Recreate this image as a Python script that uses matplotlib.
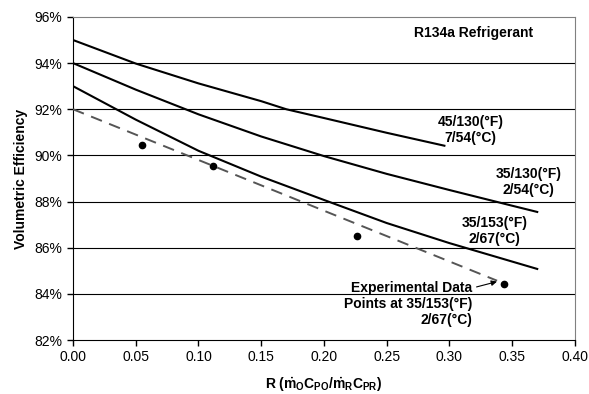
import numpy as np
import matplotlib.pyplot as plt

plt.rcParams['font.family'] = ['Liberation Sans', 'DejaVu Sans']
plt.rcParams['mathtext.fontset'] = 'custom'
plt.rcParams['mathtext.rm'] = 'Liberation Sans:bold'
plt.rcParams['mathtext.it'] = 'Liberation Sans:bold'
plt.rcParams['mathtext.bf'] = 'Liberation Sans:bold'

# Curvas (R, eficiencia volumétrica %)
r_45_130 = [0.0, 0.05, 0.10, 0.15, 0.17, 0.20, 0.25, 0.296]
ef_45_130 = [95.0, 93.98, 93.12, 92.35, 92.0, 91.62, 90.98, 90.42]

r_35_130 = [0.0, 0.05, 0.10, 0.15, 0.20, 0.25, 0.30, 0.35, 0.37]
ef_35_130 = [94.0, 92.85, 91.78, 90.82, 89.97, 89.2, 88.5, 87.82, 87.55]

r_35_153 = [0.0, 0.05, 0.10, 0.15, 0.20, 0.25, 0.30, 0.35, 0.37]
ef_35_153 = [93.0, 91.55, 90.2, 89.08, 88.07, 87.07, 86.2, 85.4, 85.08]

# Ajuste lineal (línea discontinua)
r_ajuste = [0.0, 0.338]
ef_ajuste = [92.0, 84.57]

# Datos experimentales
r_exp = [0.0547, 0.1113, 0.2266, 0.3434]
ef_exp = [90.46, 89.52, 86.52, 84.44]

fig = plt.figure(figsize=(5.89, 3.94), dpi=100)
ax = fig.add_axes([0.124, 0.137, 0.852, 0.82])

for y in range(84, 96, 2):
    ax.axhline(y, color='black', lw=0.8, zorder=1)

ax.plot(r_45_130, ef_45_130, color='black', lw=1.5, zorder=3)
ax.plot(r_35_130, ef_35_130, color='black', lw=1.5, zorder=3)
ax.plot(r_35_153, ef_35_153, color='black', lw=1.5, zorder=3)
ax.plot(r_ajuste, ef_ajuste, color='#555555', lw=1.4, ls=(0, (6, 4)), zorder=3)
ax.plot(r_exp, ef_exp, 'o', color='black', ms=4.5, zorder=4)

ax.set_xlim(0, 0.40)
ax.set_ylim(82, 96)
ax.set_xticks(np.arange(0, 0.41, 0.05))
ax.set_xticklabels(['%.2f' % v for v in np.arange(0, 0.41, 0.05)], fontsize=10)
ax.set_yticks(range(82, 97, 2))
ax.set_yticklabels(['%d%%' % v for v in range(82, 97, 2)], fontsize=10)
ax.tick_params(direction='out', length=4, width=1, color='black')

ax.spines['left'].set_color('black')
ax.spines['bottom'].set_color('black')
ax.spines['top'].set_color('#808080')
ax.spines['right'].set_color('#808080')

ax.set_ylabel('Volumetric Efficiency', fontsize=10, fontweight='bold', labelpad=5)
ax.set_xlabel(r'R ($\dot{m}_O C_{PO}/\dot{m}_R C_{PR}$)', fontsize=10, fontweight='bold', labelpad=8)

ax.text(0.3196, 95.29, 'R134a Refrigerant', fontsize=10, fontweight='bold', ha='center', va='center')
ax.text(0.317, 91.09, '45/130(°F)\n7/54(°C)', fontsize=10, fontweight='bold', ha='center', va='center', multialignment='center')
ax.text(0.363, 88.84, '35/130(°F)\n2/54(°C)', fontsize=10, fontweight='bold', ha='center', va='center', multialignment='center')
ax.text(0.336, 86.71, '35/153(°F)\n2/67(°C)', fontsize=10, fontweight='bold', ha='center', va='center', multialignment='center')
ax.text(0.3185, 83.55, 'Experimental Data\nPoints at 35/153(°F)\n2/67(°C)', fontsize=10, fontweight='bold',
        ha='right', va='center', multialignment='right')
ax.annotate('', xy=(0.340, 84.56), xytext=(0.3195, 84.27),
            arrowprops=dict(arrowstyle='-|>', lw=0.8, color='black', mutation_scale=8))

plt.savefig('out.png', dpi=100)
